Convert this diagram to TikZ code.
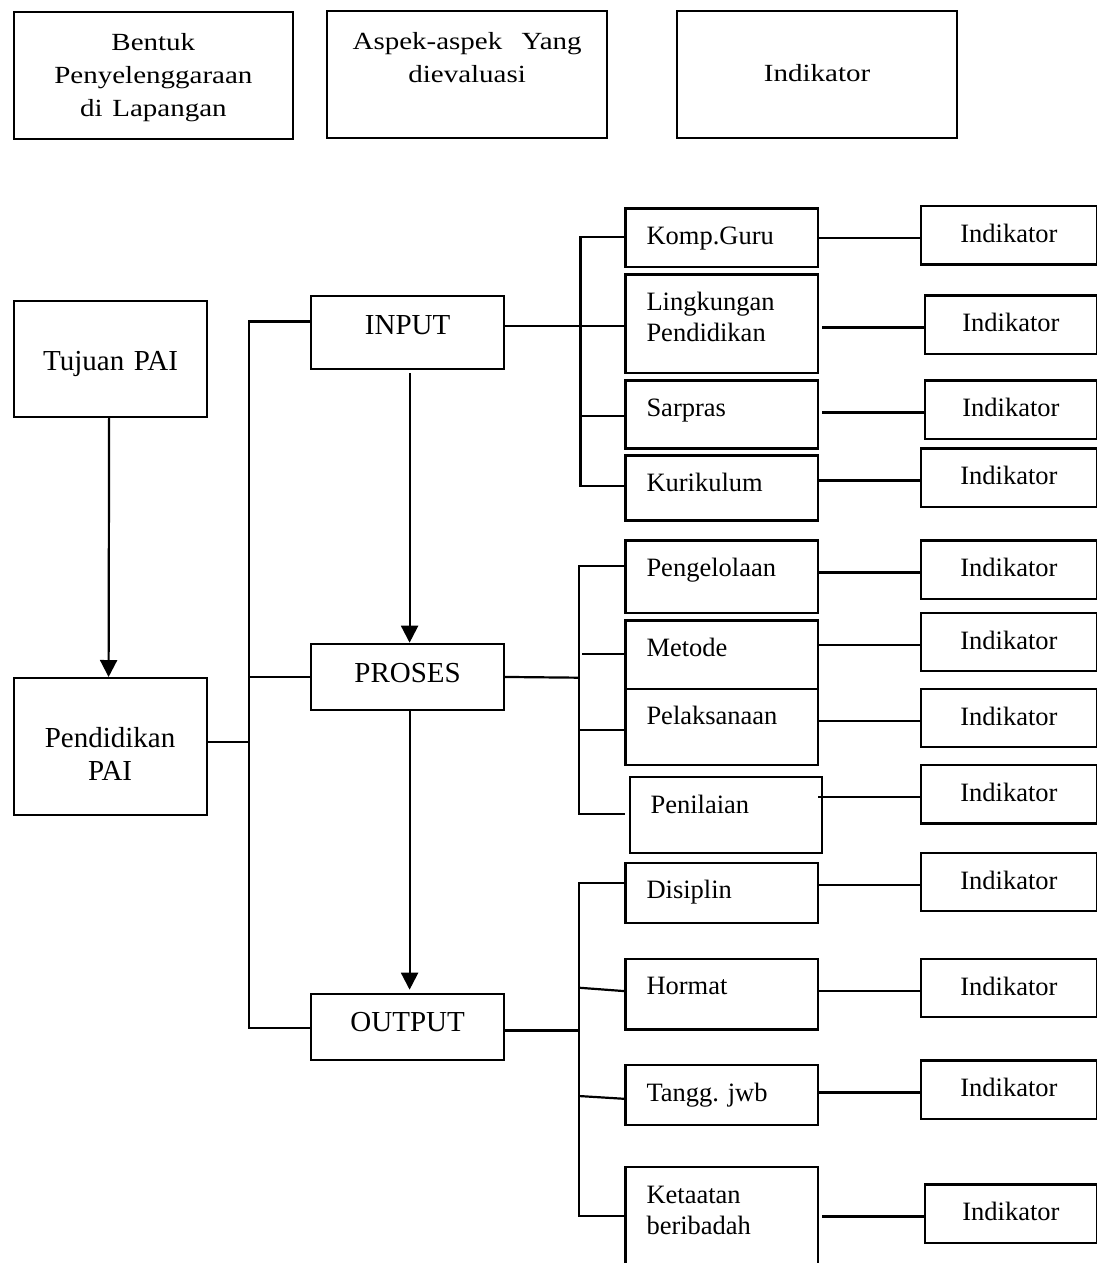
\documentclass[tikz,border=0pt]{standalone}
\usepackage{graphicx}
\usepackage{fontspec}
\setmainfont{Liberation Serif}
\usetikzlibrary{arrows.meta,calc}
\frenchspacing

% type sizes (1pt = one unit of the drawing grid)
\newcommand\FontMain{\fontsize{29}{33}\selectfont}
\newcommand\FontSmall{\fontsize{26.5}{31.5}\selectfont}
\newcommand\FontHead{\fontsize{29}{38.8}\selectfont}
\newcommand\HeadText[1]{\scalebox{1}[0.85]{\begin{tabular}[t]{@{}c@{}}#1\end{tabular}}}

\tikzset{
  frame/.style={draw, line width=2.2pt, anchor=north west, inner xsep=0pt, inner ysep=0pt},
  hdr/.style={frame, font=\FontHead, align=center},
  mainbox/.style={frame, font=\FontMain, align=center, text width=193pt},
  itembox/.style={frame, font=\FontSmall, align=left, inner xsep=21pt, text width=150.4pt, text height=36pt},
  indbox/.style={frame, font=\FontSmall, align=center, text height=36.5pt, text depth=21.8pt},
  link/.style={line width=2.2pt},
  arrowlink/.style={link, -{Triangle[width=17pt,length=17pt]}},
}

\begin{document}
\begin{tikzpicture}[x=1pt, y=-1pt]
\clip (0,0) rectangle (1097,1263);
\fill[white] (0,0) rectangle (1097,1263);

% ---- header row ----
\node[hdr, text width=279.5pt, text height=38.3pt, text depth=88.2pt] (hdrA) at (12.5,11)
  {\HeadText{Bentuk\\Penyelenggaraan\\di Lapangan}};
\node[hdr, text width=280pt, text height=38.3pt, text depth=88.7pt] (hdrB) at (326,10)
  {\HeadText{Aspek-aspek\ \ Yang\\dievaluasi}};
\node[hdr, text width=280pt, text height=70pt, text depth=57pt] (hdrC) at (676,10)
  {\HeadText{Indikator}};

% ---- left column ----
\node[mainbox, text height=69.3pt, text depth=46.7pt] (tujuan) at (13,300) {Tujuan PAI};
\node[mainbox, text height=69.7pt, text depth=67.3pt] (pend) at (12.5,677) {Pendidikan\\PAI};

% ---- stages ----
\node[mainbox, text height=38.5pt, text depth=34.5pt] (input) at (310,294.5) {INPUT};
\node[mainbox, text height=39pt, text depth=27.3pt] (proses) at (310,642.7) {PROSES};
\node[mainbox, text height=38pt, text depth=28.3pt] (output) at (310,992.7) {OUTPUT};

% ---- aspects ----
\node[itembox, text depth=22.4pt] (komp) at (624.4,207.3) {Komp.Guru};
\node[itembox, text depth=62.4pt] (lingk) at (624.4,273.3) {Lingkungan\\Pendidikan};
\node[itembox, text depth=32pt] (sarpras) at (624.4,379.3) {Sarpras};
\node[itembox, text depth=29pt] (kuri) at (624.4,454.3) {Kurikulum};
\node[itembox, text depth=36.4pt] (peng) at (624.4,539.3) {Pengelolaan};
\node[itembox, text depth=32.4pt] (metode) at (624.4,619.3) {Metode};
\node[itembox, text depth=40.3pt] (pelak) at (624.4,687.7) {Pelaksanaan};
\node[itembox, text depth=40pt] (penil) at (628.5,776) {Penilaian};
\node[itembox, text depth=24pt] (disiplin) at (624.4,861.7) {Disiplin};
\node[itembox, text depth=34.6pt] (hormat) at (624.4,957.7) {Hormat};
\node[itembox, text depth=24pt] (tangg) at (624.4,1064) {Tangg. jwb};
\node[itembox, text depth=94pt] (ketaatan) at (624.4,1166) {Ketaatan\\beribadah};

% ---- indicators ----
\node[indbox, text width=176.4pt] (iK)  at (919.6,205)    {Indikator};
\node[indbox, text width=172.3pt] (iL)  at (923.7,294.3)  {Indikator};
\node[indbox, text width=172.3pt] (iS)  at (923.7,379.3)  {Indikator};
\node[indbox, text width=176.4pt] (iKu) at (919.6,447.3)  {Indikator};
\node[indbox, text width=176.4pt] (iP)  at (919.6,539.3)  {Indikator};
\node[indbox, text width=176.4pt] (iM)  at (919.6,611.7)  {Indikator};
\node[indbox, text width=176.4pt] (iPl) at (919.6,687.7)  {Indikator};
\node[indbox, text width=176.4pt] (iPn) at (919.6,764)    {Indikator};
\node[indbox, text width=176.4pt] (iD)  at (919.6,851.7)  {Indikator};
\node[indbox, text width=176.4pt] (iH)  at (919.6,957.7)  {Indikator};
\node[indbox, text width=176.4pt] (iT)  at (919.6,1059.3) {Indikator};
\node[indbox, text width=172.3pt] (iKe) at (923.7,1183.3) {Indikator};

% ---- vertical flow ----
\draw[arrowlink] ($(tujuan.south)+(-1.5,0)$) -- ($(pend.north)+(-1.5,0)$);
\draw[arrowlink] ($(input.south)+(2,3.5)$) -- ($(proses.north)+(2,0)$);
\draw[arrowlink] ($(proses.south)+(2,0)$) -- ($(output.north)+(2,-3)$);

% ---- left spine ----
\coordinate (lsTop) at (248.6,321.5);
\coordinate (lsBot) at (248.6,1027.7);
\draw[link] (input.west |- lsTop) -- (lsTop) -- (lsBot) -- (output.west |- lsBot);
\draw[link] (proses.west) -- (proses.west -| lsTop);
\coordinate (pe) at ($(pend.east)+(0,-5)$);
\draw[link] (pe) -- (pe -| lsTop);

% ---- input branch ----
\coordinate (inOut) at ($(input.east)+(0,-6.5)$);
\draw[link] (inOut) -- (inOut -| lingk.west);
\coordinate (raTop) at (580.5,236.7);
\coordinate (raBot) at (580.5,485.7);
\draw[link] (komp.west |- raTop) -- (raTop) -- (raBot) -- (kuri.west |- raBot);
\coordinate (bS) at (582,415.7);
\draw[link] (bS) -- ($(bS -| sarpras.west)+(2,0)$);

% ---- process branch ----
\coordinate (rbTop) at (579,566);
\coordinate (rbBot) at (579,814);
\coordinate (rbIn) at (579.6,677.7);
\draw[link] (proses.east) -- (rbIn);
\draw[link] (peng.west |- rbTop) -- (rbTop) -- (rbBot) -- ($(rbBot -| penil.west)+(-3.5,0)$);
\coordinate (bM) at (582,654);
\draw[link] (bM) -- ($(bM -| metode.west)+(2,0)$);
\coordinate (bP) at (579,730);
\draw[link] (bP) -- (bP -| pelak.west);

% ---- output branch ----
\coordinate (rcTop) at (578.8,883.3);
\coordinate (rcBot) at (578.8,1216);
\coordinate (ocOut) at ($(output.east)+(0,3.5)$);
\draw[link] (ocOut) -- (ocOut -| rcTop);
\draw[link] (disiplin.west |- rcTop) -- (rcTop) -- (rcBot) -- (ketaatan.west |- rcBot);
\coordinate (bH) at (578.8,987.7);
\draw[link] (bH) -- ($(hormat.west)+(0,-3)$);
\coordinate (bT) at (578.8,1096);
\draw[link] (bT) -- ($(tangg.west)+(0,3.7)$);

% ---- aspect to indicator ----
\coordinate (cK)  at ($(iK.west)+(0,3)$);
\coordinate (cL)  at ($(iL.west)+(0,3)$);
\coordinate (cS)  at ($(iS.west)+(0,3)$);
\coordinate (cKu) at ($(iKu.west)+(0,3)$);
\coordinate (cP)  at ($(iP.west)+(0,3)$);
\coordinate (cM)  at ($(iM.west)+(0,3)$);
\coordinate (cPl) at ($(iPl.west)+(0,3)$);
\coordinate (cPn) at ($(iPn.west)+(0,3)$);
\coordinate (cD)  at ($(iD.west)+(0,3)$);
\coordinate (cH)  at ($(iH.west)+(0,3)$);
\coordinate (cT)  at ($(iT.west)+(0,3)$);
\coordinate (cKe) at ($(iKe.west)+(0,3)$);
\draw[link] (cK -| komp.east) -- (cK);
\draw[link] ($(cL -| lingk.east)+(3,0)$) -- (cL);
\draw[link] ($(cS -| sarpras.east)+(3,0)$) -- (cS);
\draw[link] (cKu -| kuri.east) -- (cKu);
\draw[link] (cP -| peng.east) -- (cP);
\draw[link] (cM -| metode.east) -- (cM);
\draw[link] (cPl -| pelak.east) -- (cPl);
\draw[link] ($(cPn -| penil.east)+(-5,0)$) -- (cPn);
\draw[link] (cD -| disiplin.east) -- (cD);
\draw[link] (cH -| hormat.east) -- (cH);
\draw[link] (cT -| tangg.east) -- (cT);
\draw[link] ($(cKe -| ketaatan.east)+(3,0)$) -- (cKe);
\end{tikzpicture}
\end{document}
